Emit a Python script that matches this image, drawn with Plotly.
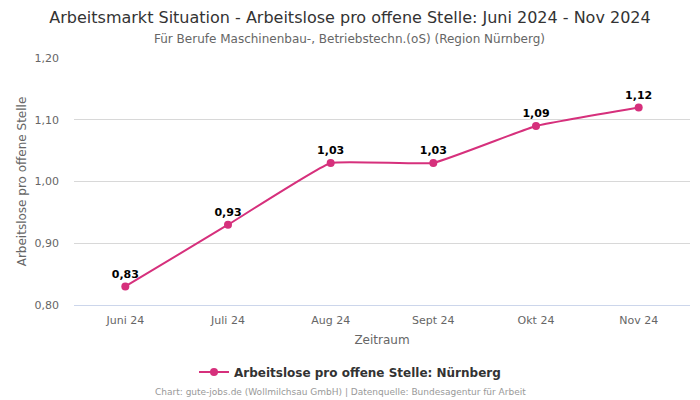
import plotly.graph_objects as go

categories = ["Juni 24", "Juli 24", "Aug 24", "Sept 24", "Okt 24", "Nov 24"]
values = [0.83, 0.93, 1.03, 1.03, 1.09, 1.12]
labels = ["0,83", "0,93", "1,03", "1,03", "1,09", "1,12"]
y_ticks = [0.80, 0.90, 1.00, 1.10, 1.20]
y_tick_labels = ["0,80", "0,90", "1,00", "1,10", "1,20"]

color = "#d6307c"
font = "DejaVu Sans"

PH = 400 - 58 - 95  # plot height in px


def py(px_y):
    return (305 - px_y) / PH


fig = go.Figure()
fig.add_trace(go.Scatter(
    x=categories, y=values, mode="lines+markers+text",
    name="Arbeitslose pro offene Stelle: Nürnberg",
    line=dict(color=color, width=2, shape="spline", smoothing=0.3),
    marker=dict(color=color, size=8),
    text=labels, textposition="top center",
    textfont=dict(family=font, size=11, color="#000000", weight="bold"),
    cliponaxis=False,
))

fig.update_layout(
    width=700, height=400,
    paper_bgcolor="white", plot_bgcolor="white",
    margin=dict(l=74, r=10, t=58, b=95, autoexpand=False),
    font=dict(family=font, color="#666666"),
    title=dict(
        text="Arbeitsmarkt Situation - Arbeitslose pro offene Stelle: Juni 2024 - Nov 2024",
        x=0.5, xanchor="center", xref="container", y=1 - 17 / 400, yanchor="middle", yref="container",
        font=dict(size=16, color="#333333"),
    ),
    xaxis=dict(
        type="category", range=[-0.5, 5.5], automargin=False,
        showgrid=False, showline=True, linecolor="#ccd6eb", linewidth=1,
        ticks="", tickfont=dict(size=11, color="#666666"), ticklabelstandoff=5,
        title=dict(text="Zeitraum", font=dict(size=12, color="#666666"), standoff=9),
        zeroline=False,
    ),
    yaxis=dict(
        range=[0.80, 1.20], tickvals=y_ticks, ticktext=y_tick_labels, automargin=False,
        showgrid=True, gridcolor="#d8d8d8", gridwidth=1,
        tickfont=dict(size=11, color="#666666"), zeroline=False,
        title=dict(text="Arbeitslose pro offene Stelle", font=dict(size=12, color="#666666"), standoff=5),
        ticklabelstandoff=14,
    ),
    showlegend=True,
    legend=dict(
        orientation="h", x=(350 - 74) / 616, xanchor="center", y=py(372), yanchor="middle",
        yref="paper",
        font=dict(size=12, color="#333333", weight="bold"),
    ),
    annotations=[
        dict(
            text="Für Berufe Maschinenbau-, Betriebstechn.(oS) (Region Nürnberg)",
            x=(349 - 74) / 616, xref="paper", xanchor="center",
            y=py(39), yref="paper", yanchor="middle",
            showarrow=False, font=dict(size=12, color="#666666"),
        ),
        dict(
            text="Chart: gute-jobs.de (Wollmilchsau GmbH) | Datenquelle: Bundesagentur für Arbeit",
            x=(340 - 74) / 616, xref="paper", xanchor="center",
            y=py(392), yref="paper", yanchor="middle",
            showarrow=False, font=dict(size=9, color="#999999"),
        ),
    ],
)

fig.write_html(
    "out.html",
    config={"displayModeBar": False},
    post_script="document.body.style.margin='0';document.body.style.padding='0';",
)
